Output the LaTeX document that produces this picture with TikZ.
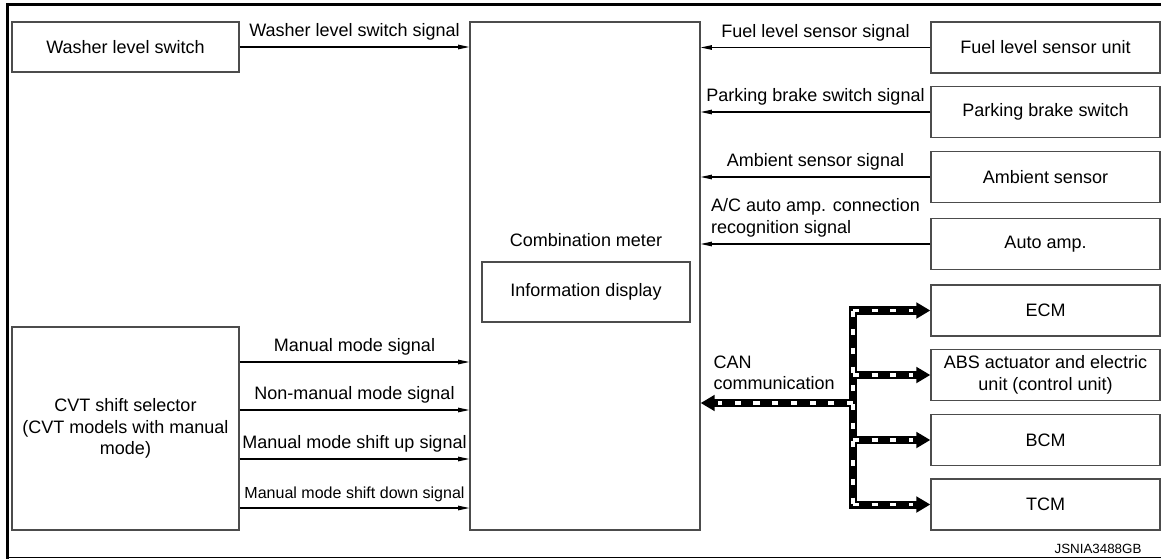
\documentclass[tikz,border=0pt]{standalone}
\usepackage{fontspec}
\setmainfont{Liberation Sans}
\usetikzlibrary{arrows.meta, positioning}

\begin{document}
\begin{tikzpicture}[x=0.025cm, y=-0.025cm, font=\fontsize{12.8}{15.4}\selectfont,
    unitbox/.style={draw=black!70, line width=0.9pt, align=center},
    sig/.style={line width=0.8pt, -{Triangle[length=8pt, width=3.2pt]}},
    canline/.style={line width=5.7pt, line cap=rect},
    cantip/.style={-{Triangle[length=10pt, width=11pt]}},
    candash/.style={draw=white, line width=2.3pt, dash pattern=on 4.3pt off 9pt}]
    \useasboundingbox (0,0) rectangle (1161,559);
    \draw[line width=2.1pt] (1161,4.5) -- (7.5,4.5) -- (7.5,559);
    \draw[line width=0.9pt] (7.5,557.5) -- (1161,557.5);

    \node[unitbox, minimum width=5.675cm, minimum height=1.25cm] (washer) at (125.5,47) {Washer level switch};
    \node[unitbox, minimum width=5.675cm, minimum height=5.075cm] (cvt) at (125.5,428.5) {CVT shift selector\\(CVT models with manual\\mode)};
    \node[unitbox, minimum width=5.75cm, minimum height=12.7cm] (meter) at (585,276) {};
    \node[unitbox, minimum width=5.2cm, minimum height=1.5cm] (info) at (586,292) {Information display};
    \node[above=7pt of info] (metertxt) {Combination meter};

    \foreach \n/\y/\lbl in {fuel/47.5/{Fuel level sensor unit}, parking/112/{Parking brake switch}, ambient/177/{Ambient sensor}, autoamp/244/{Auto amp.}, ecm/310.5/{ECM}, abs/375/{ABS actuator and electric\\unit (control unit)}, bcm/440/{BCM}, tcm/504.5/{TCM}}
        \node[unitbox, minimum width=5.725cm, minimum height=1.275cm] (\n) at (1045.5,\y) {\lbl};

    \draw[sig] (washer.east) -- (washer.east -| meter.west) node[midway, above=1pt] {Washer level switch signal};
    \foreach \n/\lbl in {fuel/{Fuel level sensor signal}, parking/{Parking brake switch signal}, ambient/{Ambient sensor signal}}
        \draw[sig] (\n.west) -- (\n.west -| meter.east) node[midway, above=1pt] {\lbl};
    \draw[sig] (autoamp.west) -- (autoamp.west -| meter.east) node[midway, above=1pt, align=left] {A/C auto amp. connection\\recognition signal};
    \foreach \y/\lbl in {362/{Manual mode signal}, 410/{Non-manual mode signal}, 459/{Manual mode shift up signal}, 508/{\fontsize{11.4}{13}\selectfont Manual mode shift down signal}}
        \draw[sig] (cvt.east |- 0,\y) -- (meter.west |- 0,\y) node[midway, above=1pt] {\lbl};

    \coordinate (bus) at (853,403);
    \coordinate (canend) at (bus -| meter.east);
    \draw[canline] (bus |- ecm.west) -- (bus |- tcm.west);
    \foreach \n in {ecm, abs, bcm, tcm}
        \draw[canline, cantip] (bus |- \n.west) -- (\n.west);
    \draw[canline, cantip] (bus) -- (canend);
    \draw[candash] (bus |- ecm.west) -- (bus |- tcm.west);
    \foreach \n in {ecm, abs, bcm, tcm}
        \draw[candash, shorten >=12pt] (bus |- \n.west) -- (\n.west);
    \draw[candash, shorten >=12pt] (bus) -- (canend);
    \node[align=left, above right=0.2cm and 0.2cm of canend] (canlbl) {CAN\\communication};
    \node[font=\fontsize{9.5}{11}\selectfont] (code) at (1098,549) {JSNIA3488GB};
\end{tikzpicture}
\end{document}
